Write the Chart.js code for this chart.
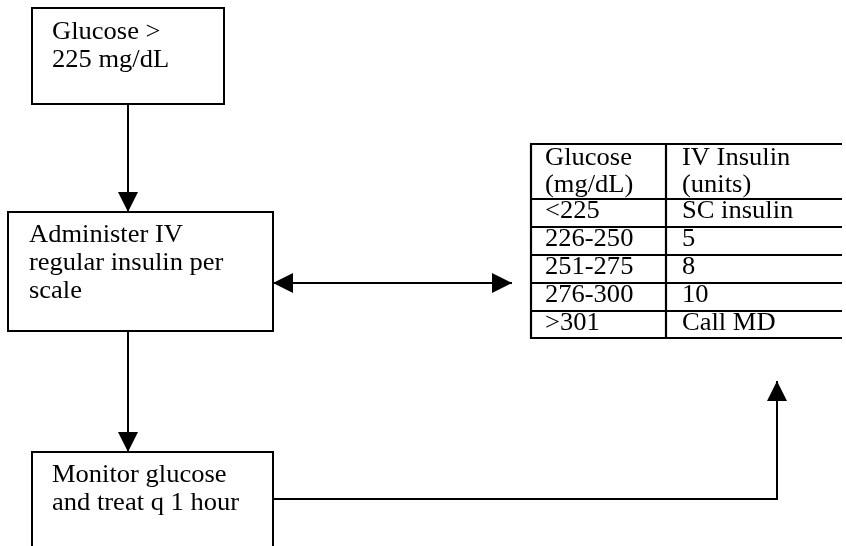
<!DOCTYPE html>
<html>
<head>
<meta charset="utf-8">
<script src="https://cdn.jsdelivr.net/npm/chart.js@4/dist/chart.umd.min.js"></script>
<style>
	body { margin: 0; background: #fff; }
	#wrap { width: 846px; height: 546px; }
	#probe { position: absolute; left: -1000px; font-family: 'Liberation Serif'; }
</style>
</head>
<body>
<div id="wrap"><canvas id="chart" width="846" height="546"></canvas></div>
<span id="probe">Glucose</span>
<script>
// texts of the flowchart
const boxTexts = [
	[ "Glucose >", "225 mg/dL" ],
	[ "Administer IV", "regular insulin per", "scale" ],
	[ "Monitor glucose", "and treat q 1 hour" ],
];
const tableHeader = [ [ "Glucose", "(mg/dL)" ], [ "IV Insulin", "(units)" ] ];
const glucoseRanges = [ "<225", "226-250", "251-275", "276-300", ">301" ];
const insulinDoses = [ "SC insulin", "5", "8", "10", "Call MD" ];

// layout in scale units (x 0..846, y 0..546 top-down)
const boxes = [
	{ x0: 32, y0: 8, x1: 224, y1: 104, tx: 52, ty: 39 },
	{ x0: 8, y0: 212, x1: 273, y1: 331, tx: 29, ty: 242 },
	{ x0: 32, y0: 452, x1: 273, y1: 560, tx: 52, ty: 482 },
];
const lineStep = 28;
const table = { x0: 531, xc: 666, x1: 842, rows: [ 144, 199, 227, 255, 283, 311, 338 ] };

// connectors: polylines, arrowheads at given ends
const connectors = [
	{ pts: [ [128, 104], [128, 212] ], heads: [ "end" ] },
	{ pts: [ [128, 331], [128, 452] ], heads: [ "end" ] },
	{ pts: [ [273, 283], [512, 283] ], heads: [ "start", "end" ] },
	{ pts: [ [273, 499], [777, 499], [777, 381] ], heads: [ "end" ] },
];

const FONT = "26px 'Liberation Serif', 'Times New Roman', Tinos, serif";
const STRETCH = 1.02;

const flowchart = {
	id: "flowchart",
	afterDatasetsDraw(chart)
	{
		const { ctx } = chart;
		const X = v => chart.scales.x.getPixelForValue(v);
		const Y = v => chart.scales.y.getPixelForValue(v);

		function text(str, x, y)
		{
			ctx.save();
			ctx.translate(X(x), Y(y));
			ctx.scale(STRETCH, 1);
			ctx.fillText(str, 0, 0);
			ctx.restore();
		}

		function head(tip, from)
		{
			const tx = X(tip[0]), ty = Y(tip[1]);
			const a = Math.atan2(ty - Y(from[1]), tx - X(from[0]));
			const len = 20, half = 10;
			ctx.beginPath();
			ctx.moveTo(tx, ty);
			ctx.lineTo(tx - len * Math.cos(a) + half * Math.sin(a), ty - len * Math.sin(a) - half * Math.cos(a));
			ctx.lineTo(tx - len * Math.cos(a) - half * Math.sin(a), ty - len * Math.sin(a) + half * Math.cos(a));
			ctx.closePath();
			ctx.fill();
		}

		ctx.save();
		ctx.fillStyle = "#000";
		ctx.strokeStyle = "#000";
		ctx.font = FONT;
		ctx.textBaseline = "alphabetic";

		// boxes
		ctx.lineWidth = 2;
		boxes.forEach((b, i) =>
		{
			ctx.strokeRect(X(b.x0), Y(b.y0), X(b.x1) - X(b.x0), Y(b.y1) - Y(b.y0));
			boxTexts[i].forEach((t, j) => text(t, b.tx, b.ty + j * lineStep));
		});

		// arrowheads
		for (const c of connectors)
		{
			const n = c.pts.length;
			if (c.heads.includes("end"))
				head(c.pts[n - 1], c.pts[n - 2]);
			if (c.heads.includes("start"))
				head(c.pts[0], c.pts[1]);
		}

		// table
		ctx.lineWidth = 2.2;
		ctx.beginPath();
		for (const r of table.rows)
		{
			ctx.moveTo(X(table.x0), Y(r));
			ctx.lineTo(X(table.x1), Y(r));
		}
		const top = table.rows[0], bottom = table.rows[table.rows.length - 1];
		for (const cx of [ table.x0, table.xc ])
		{
			ctx.moveTo(X(cx), Y(top) - 1);
			ctx.lineTo(X(cx), Y(bottom) + 1);
		}
		ctx.stroke();

		const col1 = table.x0 + 14, col2 = table.xc + 16;
		tableHeader[0].forEach((t, j) => text(t, col1, top + 21 + j * 27));
		tableHeader[1].forEach((t, j) => text(t, col2, top + 21 + j * 27));
		glucoseRanges.forEach((t, i) => text(t, col1, table.rows[i + 1] + 19));
		insulinDoses.forEach((t, i) => text(t, col2, table.rows[i + 1] + 19));

		ctx.restore();
	}
};

function DrawChart()
{
	const ctx = document.getElementById("chart");
	new Chart(ctx, {
		type: "scatter",
		data: {
			datasets: connectors.map(c => ({
				data: c.pts.map(p => ({ x: p[0], y: p[1] })),
				showLine: true,
				borderColor: "#000",
				borderWidth: 2,
				pointRadius: 0,
				fill: false,
				tension: 0,
			}))
		},
		options: {
			responsive: false,
			animation: false,
			devicePixelRatio: 1,
			layout: { padding: 0 },
			plugins: {
				legend: { display: false },
				tooltip: { enabled: false },
			},
			scales: {
				x: { type: "linear", min: 0, max: 846, display: false },
				y: { type: "linear", min: 0, max: 546, reverse: true, display: false },
			}
		},
		plugins: [ flowchart ],
	});
}

document.fonts.load(FONT).then(DrawChart, DrawChart);
</script>
</body>
</html>
